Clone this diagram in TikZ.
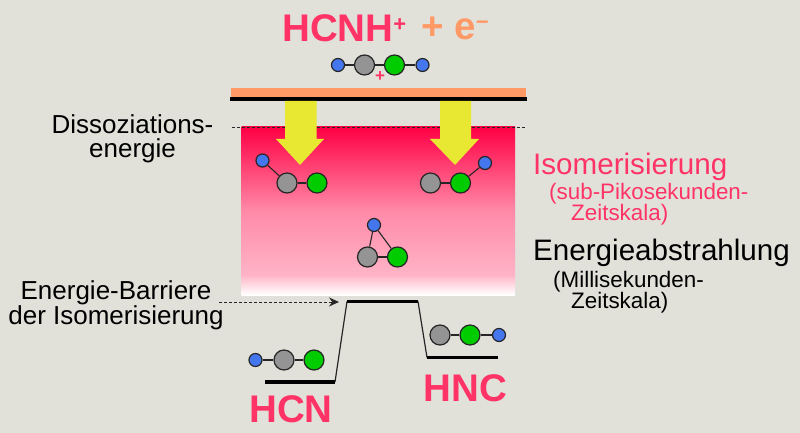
\documentclass[tikz,border=0pt]{standalone}
\usepackage{fontspec}
\setmainfont{Liberation Sans}
\usetikzlibrary{arrows,arrows.meta}
\definecolor{bgcol}{HTML}{E1E1DA}
\definecolor{pinkcol}{HTML}{FF3366}
\definecolor{orangecol}{HTML}{FF9966}
\definecolor{yellowcol}{HTML}{E8E832}
\definecolor{bluecol}{HTML}{4477EE}
\definecolor{fadelow}{HTML}{FFB4C6}
\definecolor{fademid}{HTML}{FF8AA8}
\definecolor{fadetop}{HTML}{FF0044}
\pgfdeclareverticalshading{energyfade}{100bp}{color(0bp)=(white); color(25bp)=(white); color(27.5bp)=(white!60!fadelow); color(31bp)=(fadelow); color(50bp)=(fademid); color(75bp)=(fadetop); color(100bp)=(fadetop)}
\tikzset{
  blueatom/.style={circle,draw=black!85,line width=1.2pt,fill=bluecol,minimum size=13pt,inner sep=0pt},
  grayatom/.style={circle,draw=black!85,line width=1.2pt,fill=black!42,minimum size=20pt,inner sep=0pt},
  greenatom/.style={circle,draw=black!85,line width=1.2pt,fill=green!80!black,minimum size=20pt,inner sep=0pt},
  bond/.style={line width=1.1pt,black!85},
  level/.style={line width=3.4pt,black},
  slope/.style={line width=1.2pt,black!85},
  biglabel/.style={font=\fontsize{38.5}{38.5}\selectfont\bfseries,text=pinkcol,inner sep=0pt},
  blacklabel/.style={font=\fontsize{26}{24}\selectfont,align=center,inner sep=0pt},
  medlabel/.style={font=\fontsize{29.6}{30}\selectfont,inner sep=0pt,anchor=west},
  smalllabel/.style={font=\fontsize{22.4}{24}\selectfont,inner sep=0pt,anchor=west},
  downarrow/.style={fill=yellowcol,draw=none}
}
\begin{document}
\begin{tikzpicture}[x=1pt,y=-1pt]
  \fill [bgcol] (0,0) rectangle (800,433);
  \useasboundingbox (0,0) rectangle (800,433);

  \shade [shading=energyfade] (241.5,127) rectangle (515,295);
  \fill [orangecol] (231,88) rectangle (526,98);

  \coordinate (ionL) at (230,99);
  \coordinate (ionR) at (527,99);
  \draw [level] (ionL) -- (ionR);
  \coordinate (dissL) at (232,127);
  \coordinate (dissR) at (526,127);
  \draw [black!85,line width=0.9pt,dash pattern=on 3pt off 2pt] (dissL) -- (dissR);

  \fill [downarrow] (285,101) -- (316.5,101) -- (316.5,139) -- (324,139) -- (300,165) -- (276,139) -- (285,139) -- cycle;
  \fill [downarrow] (440,101) -- (471,101) -- (471,139) -- (479,139) -- (455,165) -- (430,139) -- (440,139) -- cycle;

  % ion
  \node [biglabel,anchor=west] (ion) at (282,28.5) {HCNH\raisebox{10pt}{\fontsize{22}{22}\selectfont +}};
  \node [biglabel,text=orangecol,anchor=west] (electron) at (421,28.5) {+ e\raisebox{10pt}{\fontsize{22}{22}\selectfont −}};
  \node [blueatom] (a1) at (338,65) {};
  \node [grayatom] (a2) at (364.5,65) {};
  \node [greenatom] (a3) at (394.5,65) {};
  \node [blueatom] (a4) at (422.5,65) {};
  \draw [bond] (a1) -- (a2);
  \draw [bond] (a2) -- (a3);
  \draw [bond] (a3) -- (a4);
  \node [inner sep=0pt,text=pinkcol,font=\fontsize{17}{17}\selectfont\bfseries] (charge) at (380,77) {+};

  % bent left
  \node [blueatom] (b1) at (262.5,160.5) {};
  \node [grayatom] (b2) at (287,183) {};
  \node [greenatom] (b3) at (317,183) {};
  \draw [bond] (b1) -- (b2);
  \draw [bond] (b2) -- (b3);

  % bent right
  \node [grayatom] (c1) at (430.5,183) {};
  \node [greenatom] (c2) at (460.5,183) {};
  \node [blueatom] (c3) at (485,163) {};
  \draw [bond] (c1) -- (c2);
  \draw [bond] (c2) -- (c3);

  % triangle
  \node [blueatom] (d1) at (374,225) {};
  \node [grayatom] (d2) at (367.5,257) {};
  \node [greenatom] (d3) at (397.5,257) {};
  \draw [bond] (d1) -- (d2);
  \draw [bond] (d2) -- (d3);
  \draw [bond] (d3) -- (d1);

  % HCN
  \node [blueatom] (e1) at (255.5,360) {};
  \node [grayatom] (e2) at (284,360) {};
  \node [greenatom] (e3) at (314,360) {};
  \draw [bond] (e1) -- (e2);
  \draw [bond] (e2) -- (e3);

  % HNC
  \node [grayatom] (f1) at (440,335) {};
  \node [greenatom] (f2) at (470,335) {};
  \node [blueatom] (f3) at (499,335) {};
  \draw [bond] (f1) -- (f2);
  \draw [bond] (f2) -- (f3);

  % profile
  \coordinate (hcnL) at (265,382);
  \coordinate (hcnR) at (335,382);
  \coordinate (topL) at (347,301.5);
  \coordinate (topR) at (418,301.5);
  \coordinate (hncL) at (427,357.5);
  \coordinate (hncR) at (498,357.5);
  \draw [level] (hcnL) -- (hcnR);
  \draw [level] (topL) -- (topR);
  \draw [level] (hncL) -- (hncR);
  \draw [slope] (hcnR) -- (topL);
  \draw [slope] (topR) -- (hncL);

  \node [biglabel] (hcn) at (291,409) {HCN};
  \node [biglabel] (hnc) at (465.5,388) {HNC};

  \node [blacklabel] (diss) at (132.5,138.5) {Dissoziations-\\energie};
  \node [blacklabel] (barrier) at (116,305.5) {Energie-Barriere\\der Isomerisierung};
  \coordinate (barrierStart) at (219,302);
  \coordinate (barrierEnd) at (339,302);
  \draw [black!85,dash pattern=on 3pt off 2pt,line width=0.9pt,-{Stealth[length=10pt,width=9pt]}] (barrierStart) -- (barrierEnd);

  \node [medlabel,text=pinkcol] (iso) at (533,167) {Isomerisierung};
  \node [smalllabel,text=pinkcol] (isoa) at (549,194) {(sub-Pikosekunden-};
  \node [smalllabel,text=pinkcol] (isob) at (571,215) {Zeitskala)};
  \node [medlabel] (rad) at (533,253) {Energieabstrahlung};
  \node [smalllabel] (rada) at (553,282) {(Millisekunden-};
  \node [smalllabel] (radb) at (571,303) {Zeitskala)};
\end{tikzpicture}
\end{document}
